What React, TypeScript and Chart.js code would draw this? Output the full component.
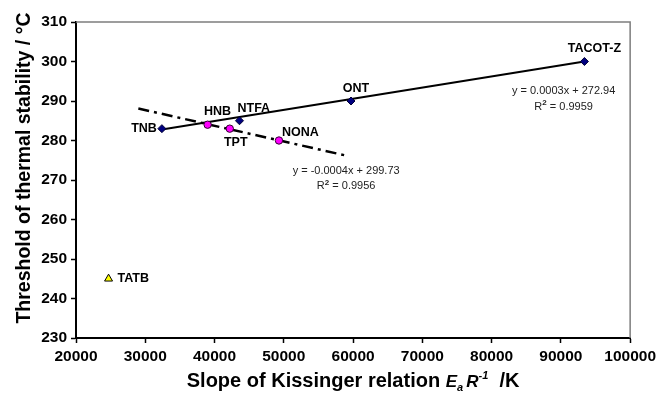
import React, { useEffect, useRef } from "react";
import { Chart, registerables } from "chart.js";

Chart.register(...registerables);

// ---------- data ----------
const diamondNames = ["TNB", "NTFA", "ONT", "TACOT-Z"];
const diamondX = [32400, 43600, 59700, 93400];
const diamondY = [283, 285, 290, 300];

const circleNames = ["HNB", "TPT", "NONA"];
const circleX = [39000, 42200, 49300];
const circleY = [284, 283, 280];

const triangleNames = ["TATB"];
const triangleX = [24700];
const triangleY = [245];

// linear trend lines (end points)
const trendSolidX = [32400, 93400];
const trendSolidY = [282.8, 300.0];
const trendDashX = [29000, 59200];
const trendDashY = [288.1, 276.1];

const eqSolidText = "y = 0.0003x + 272.94";
const eqSolidR2 = "0.9959";
const eqDashText = "y = -0.0004x + 299.73";
const eqDashR2 = "0.9956";
const eqSolidAnchorX = 90400;
const eqSolidAnchorY = [292.5, 288.5];
const eqDashAnchorX = 59000;
const eqDashAnchorY = [272.2, 268.4];

const xTickValues = [20000, 30000, 40000, 50000, 60000, 70000, 80000, 90000, 100000];
const yTickValues = [230, 240, 250, 260, 270, 280, 290, 300, 310];

const yTitle = "Threshold of thermal stability / °C";

// ---------- styles ----------
const FONT = "'Liberation Sans', Arial, Helvetica, sans-serif";
const labelPlacement: Record<string, [number, number, CanvasTextAlign]> = {
  TNB: [-5, 0, "right"],
  HNB: [10, -13, "center"],
  NTFA: [-2, -12, "left"],
  TPT: [6, 14, "center"],
  NONA: [3, -8, "left"],
  ONT: [5, -12, "center"],
  "TACOT-Z": [10, -13, "center"],
  TATB: [9, 0, "left"],
};

function drawR2(ctx: CanvasRenderingContext2D, cx: number, cy: number, value: string) {
  const fNorm = `11px ${FONT}`;
  const fSup = `bold 8px ${FONT}`;
  const pieces: [string, string, number][] = [
    ["R", fNorm, 0],
    ["2", fSup, -4],
    [" = " + value, fNorm, 0],
  ];
  let total = 0;
  const ws = pieces.map(([t, f]) => {
    ctx.font = f;
    const w = ctx.measureText(t).width;
    total += w;
    return w;
  });
  let x = cx - total / 2;
  ctx.textAlign = "left";
  pieces.forEach(([t, f, dy], i) => {
    ctx.font = f;
    ctx.fillText(t, x, cy + dy);
    x += ws[i];
  });
}

const annotatePlugin = {
  id: "annotate",
  afterDatasetsDraw(chart: any) {
    const { ctx, chartArea } = chart;
    const xs = chart.scales.x;
    const ys = chart.scales.y;
    ctx.save();
    // top & right frame
    ctx.strokeStyle = "#7d7d7d";
    ctx.lineWidth = 1.5;
    ctx.beginPath();
    ctx.moveTo(chartArea.left, chartArea.top);
    ctx.lineTo(chartArea.right, chartArea.top);
    ctx.lineTo(chartArea.right, chartArea.bottom);
    ctx.stroke();

    // point labels
    const names = [...diamondNames, ...circleNames, ...triangleNames];
    const px = [...diamondX, ...circleX, ...triangleX];
    const py = [...diamondY, ...circleY, ...triangleY];
    ctx.fillStyle = "#000";
    ctx.font = `bold 12.5px ${FONT}`;
    ctx.textBaseline = "middle";
    names.forEach((n, i) => {
      const [dx, dy, al] = labelPlacement[n];
      ctx.textAlign = al;
      ctx.fillText(n, xs.getPixelForValue(px[i]) + dx, ys.getPixelForValue(py[i]) + dy);
    });

    // equations
    ctx.font = `11px ${FONT}`;
    ctx.fillStyle = "#222";
    ctx.textAlign = "center";
    ctx.fillText(eqSolidText, xs.getPixelForValue(eqSolidAnchorX), ys.getPixelForValue(eqSolidAnchorY[0]));
    drawR2(ctx, xs.getPixelForValue(eqSolidAnchorX), ys.getPixelForValue(eqSolidAnchorY[1]), eqSolidR2);
    ctx.font = `11px ${FONT}`;
    ctx.textAlign = "center";
    ctx.fillText(eqDashText, xs.getPixelForValue(eqDashAnchorX), ys.getPixelForValue(eqDashAnchorY[0]));
    drawR2(ctx, xs.getPixelForValue(eqDashAnchorX), ys.getPixelForValue(eqDashAnchorY[1]), eqDashR2);

    // y title
    ctx.fillStyle = "#000";
    ctx.font = `bold 19.5px ${FONT}`;
    ctx.save();
    ctx.translate(25, (chartArea.top + chartArea.bottom) / 2 - 12);
    ctx.rotate(-Math.PI / 2);
    ctx.textAlign = "center";
    ctx.textBaseline = "middle";
    ctx.fillText(yTitle, 0, 0);
    ctx.restore();

    // x title (rich text)
    const fMain = `bold 20px ${FONT}`;
    const fIt = `italic bold 17px ${FONT}`;
    const fSmall = `italic bold 11px ${FONT}`;
    const parts: [string, string, number][] = [
      ["Slope of Kissinger relation ", fMain, 0],
      ["E", fIt, 0],
      ["a", fSmall, 4],
      [" ", fSmall, 0],
      ["R", fIt, 0],
      ["-1", fSmall, -8],
      ["  /K", fMain, 0],
    ];
    let total = 0;
    const widths = parts.map(([t, f]) => {
      ctx.font = f;
      const w = ctx.measureText(t).width;
      total += w;
      return w;
    });
    let cx = (chartArea.left + chartArea.right) / 2 - total / 2;
    ctx.textAlign = "left";
    ctx.textBaseline = "alphabetic";
    parts.forEach(([t, f, dy], i) => {
      ctx.font = f;
      ctx.fillText(t, cx, 387 + dy);
      cx += widths[i];
    });
    ctx.restore();
  },
};

export default function App() {
  const ref = useRef<HTMLCanvasElement | null>(null);
  useEffect(() => {
    if (!ref.current) return;
    const pts = (xa: number[], ya: number[]) => xa.map((x, i) => ({ x, y: ya[i] }));
    const axisCommon = {
      grid: {
        display: true,
        drawOnChartArea: false,
        drawTicks: true,
        tickLength: 5,
        tickColor: "#000",
        tickWidth: 1.5,
      },
      border: { display: true, color: "#000", width: 2 },
    };
    const chart = new Chart(ref.current, {
      type: "scatter",
      data: {
        datasets: [
          {
            label: "diamonds",
            data: pts(diamondX, diamondY),
            pointStyle: "rectRot",
            pointRadius: 4,
            backgroundColor: "#000080",
            borderColor: "#000033",
            borderWidth: 1,
          },
          {
            label: "circles",
            data: pts(circleX, circleY),
            pointStyle: "circle",
            pointRadius: 3.7,
            backgroundColor: "#ff00ff",
            borderColor: "#330033",
            borderWidth: 1,
          },
          {
            label: "triangle",
            data: pts(triangleX, triangleY),
            pointStyle: "triangle",
            pointRadius: 4.6,
            backgroundColor: "#ffff00",
            borderColor: "#000",
            borderWidth: 1,
          },
          {
            label: "trend solid",
            data: pts(trendSolidX, trendSolidY),
            showLine: true,
            pointRadius: 0,
            borderColor: "#000",
            borderWidth: 2,
          },
          {
            label: "trend dash",
            data: pts(trendDashX, trendDashY),
            showLine: true,
            pointRadius: 0,
            borderColor: "#000",
            borderWidth: 2.5,
            borderDash: [11, 5, 3, 5],
          },
        ],
      },
      options: {
        responsive: false,
        animation: false,
        devicePixelRatio: 1,
        layout: { padding: { top: 22, right: 28, left: 0, bottom: 0 } },
        plugins: {
          legend: { display: false },
          tooltip: { enabled: false },
        },
        scales: {
          x: {
            type: "linear",
            min: 20000,
            max: 100000,
            ...axisCommon,
            afterBuildTicks: (s: any) => {
              s.ticks = xTickValues.map((v) => ({ value: v }));
            },
            afterFit: (s: any) => {
              s.height = 60;
            },
            ticks: {
              color: "#000",
              font: { family: FONT, size: 15.5, weight: "bold" },
              padding: 4,
              maxRotation: 0,
              autoSkip: false,
              callback: (v: any) => String(v),
            },
          },
          y: {
            type: "linear",
            min: 230,
            max: 310,
            ...axisCommon,
            afterBuildTicks: (s: any) => {
              s.ticks = yTickValues.map((v) => ({ value: v }));
            },
            afterFit: (s: any) => {
              s.width = 76;
            },
            ticks: {
              color: "#000",
              font: { family: FONT, size: 15.5, weight: "bold" },
              padding: 4,
              autoSkip: false,
              callback: (v: any) => String(v),
            },
          },
        },
      } as any,
      plugins: [annotatePlugin],
    });
    return () => chart.destroy();
  }, []);
  return (
    <div style={{ position: "fixed", left: 0, top: 0, width: 660, height: 398, background: "#fff" }}>
      <canvas ref={ref} width={660} height={398} style={{ display: "block" }} />
    </div>
  );
}
